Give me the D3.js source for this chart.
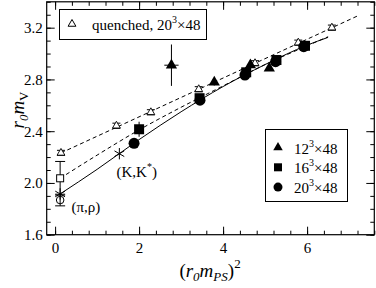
<!DOCTYPE html>
<html lang="en">
<head>
<meta charset="UTF-8">
<title>r0 mV vs (r0 mPS)^2</title>
<script src="https://d3js.org/d3.v7.min.js"></script>
<style>
    body { margin: 0; background: #fff; }
    svg, svg text, .axis text { font-family: "Liberation Serif", "Times New Roman", Times, serif !important; fill: #000; }
    .axis path { display: none; }
    .axis line { stroke: #000; }
    .axis text { font-size: 15px; }
</style>
</head>
<body>
<svg id="chart" width="376" height="288"></svg>
<script>
// quenched, 20^3x48 (open triangles)
const quenchedX = [0.14, 1.46, 2.28, 3.42, 4.76, 5.79, 6.59];
const quenchedY = [2.232, 2.442, 2.546, 2.724, 2.925, 3.084, 3.20];
// dynamical, three lattice sizes
const l12X = [2.77, 3.79, 4.65, 5.10];
const l12Y = [2.91, 2.778, 2.911, 2.886];
const l12Err = [0.16, 0.025, 0.02, 0.02];
const l12XErr = [0.17, 0, 0, 0];
const l16X = [2.0, 3.44, 4.55, 5.27, 5.95];
const l16Y = [2.415, 2.655, 2.855, 2.95, 3.06];
const l16Err = [0.058, 0.02, 0.02, 0.02, 0.02];
const l20X = [1.88, 3.45, 4.52, 5.25, 5.92];
const l20Y = [2.306, 2.64, 2.834, 2.937, 3.053];
// chiral / physical points
const sqOpen = { x: 0.12, y: 2.036, err: 0.13 };
const circOpen = { x: 0.12, y: 1.868, err: 0.045 };
const starX = [0.12, 1.53];
const starY = [1.915, 2.226];
// fit curves
const fitQX = [0.14, 7.25];
const fitQY = [2.232, 3.298];
const fitDashX = [0.12, 1, 2, 3, 4, 5, 6, 6.5];
const fitDashY = [2.036, 2.215, 2.41, 2.585, 2.75, 2.915, 3.06, 3.13];
const fitSolidX = [0.12, 1, 2, 3, 4, 5, 6, 6.5];
const fitSolidY = [1.915, 2.105, 2.335, 2.55, 2.745, 2.915, 3.065, 3.125];

const xMajor = [0, 2, 4, 6];
const yMajor = [1.6, 2.0, 2.4, 2.8, 3.2];

const svg = d3.select('#chart');
const L = 46.7, R = 374.3, T = 1.8, B = 234.7;
const x = d3.scaleLinear().domain([-0.2, 7.6]).range([L, R]);
const y = d3.scaleLinear().domain([1.6, 3.4]).range([B, T]);

const xMinor = d3.range(0, 7.61, 0.4);
const yMinor = d3.range(1.6, 3.401, 0.1);

function addAxis(gen, tr, vals, size, labels) {
    const g = svg.append('g').attr('class', 'axis').attr('transform', tr)
        .call(gen.tickValues(vals).tickSize(size).tickSizeOuter(0).tickPadding(4)
            .tickFormat(labels ? d3.format('.1f') : ''));
    return g;
}
addAxis(d3.axisLeft(y), `translate(${L},0)`, yMinor, -4, false);
addAxis(d3.axisLeft(y), `translate(${L},0)`, yMajor, -8, true);
addAxis(d3.axisRight(y), `translate(${R},0)`, yMinor, -4, false);
addAxis(d3.axisRight(y), `translate(${R},0)`, yMajor, -8, false);
addAxis(d3.axisBottom(x), `translate(0,${B})`, xMinor, -4, false);
const xb = svg.append('g').attr('class', 'axis').attr('transform', `translate(0,${B})`)
    .call(d3.axisBottom(x).tickValues(xMajor).tickSize(-8).tickSizeOuter(0).tickPadding(5).tickFormat(d3.format('d')));
xb.selectAll('text').attr('dy', '0.9em');
addAxis(d3.axisTop(x), `translate(0,${T})`, xMinor, -4, false);
addAxis(d3.axisTop(x), `translate(0,${T})`, xMajor, -8, false);
svg.selectAll('.axis').attr('font-family', null);

svg.append('rect').attr('x', L).attr('y', T).attr('width', R - L).attr('height', B - T)
    .attr('fill', 'none').attr('stroke', '#000').attr('stroke-width', 1.2);

// fit lines
const line = d3.line().x(d => x(d[0])).y(d => y(d[1]));
const curve = d3.line().x(d => x(d[0])).y(d => y(d[1])).curve(d3.curveMonotoneX);
svg.append('path').attr('d', line(d3.zip(fitQX, fitQY)))
    .attr('fill', 'none').attr('stroke', '#000').attr('stroke-dasharray', '4,3');
svg.append('path').attr('d', curve(d3.zip(fitDashX, fitDashY)))
    .attr('fill', 'none').attr('stroke', '#000').attr('stroke-dasharray', '4,3');
svg.append('path').attr('d', curve(d3.zip(fitSolidX, fitSolidY)))
    .attr('fill', 'none').attr('stroke', '#000');

function tri(cx, cy, r) {
    const h = r * 0.866;
    return `M${cx},${cy - r}L${cx + h},${cy + r / 2}L${cx - h},${cy + r / 2}Z`;
}
function errY(xv, yv, e, cap) {
    if (!e) return;
    const g = svg.append('g').attr('stroke', '#000');
    g.append('line').attr('x1', x(xv)).attr('x2', x(xv)).attr('y1', y(yv - e)).attr('y2', y(yv + e));
    g.append('line').attr('x1', x(xv) - cap).attr('x2', x(xv) + cap).attr('y1', y(yv + e)).attr('y2', y(yv + e));
    g.append('line').attr('x1', x(xv) - cap).attr('x2', x(xv) + cap).attr('y1', y(yv - e)).attr('y2', y(yv - e));
}
function errX(xv, yv, e) {
    if (!e) return;
    svg.append('line').attr('stroke', '#000')
        .attr('x1', x(xv - e)).attr('x2', x(xv + e)).attr('y1', y(yv)).attr('y2', y(yv));
}

// quenched open triangles
quenchedX.forEach((xv, i) => {
    errY(xv, quenchedY[i], 0.02, 4);
    svg.append('path').attr('d', tri(x(xv), y(quenchedY[i]), 4.5))
        .attr('fill', '#fff').attr('stroke', '#000').attr('stroke-width', 0.9);
});

// open square and circle at chiral limit
errY(sqOpen.x, sqOpen.y, sqOpen.err, 5);
svg.append('rect').attr('x', x(sqOpen.x) - 3.5).attr('y', y(sqOpen.y) - 3.5)
    .attr('width', 7).attr('height', 7).attr('fill', '#fff').attr('stroke', '#000');
errY(circOpen.x, circOpen.y, circOpen.err, 5);
svg.append('circle').attr('cx', x(circOpen.x)).attr('cy', y(circOpen.y)).attr('r', 3.8)
    .attr('fill', 'none').attr('stroke', '#000');

// dynamical points
l12X.forEach((xv, i) => {
    errY(xv, l12Y[i], l12Err[i], 0);
    errX(xv, l12Y[i], l12XErr[i]);
    svg.append('path').attr('d', tri(x(xv), y(l12Y[i]), 6.5)).attr('fill', '#000');
});
l16X.forEach((xv, i) => {
    errY(xv, l16Y[i], l16Err[i], 0);
    svg.append('rect').attr('x', x(xv) - 5).attr('y', y(l16Y[i]) - 5)
        .attr('width', 10).attr('height', 10).attr('fill', '#000');
});
l20X.forEach((xv, i) => {
    svg.append('circle').attr('cx', x(xv)).attr('cy', y(l20Y[i])).attr('r', 5.5).attr('fill', '#000');
});

// stars
const star = d3.symbol().type(d3.symbolAsterisk).size(90);
starX.forEach((xv, i) => {
    svg.append('path').attr('d', star())
        .attr('transform', `translate(${x(xv)},${y(starY[i])})`)
        .attr('fill', 'none').attr('stroke', '#000').attr('stroke-width', 1);
});

// annotations
const kk = svg.append('text').attr('x', 116.5).attr('y', 177).style('font-size', '15px');
kk.append('tspan').text('(K,K');
kk.append('tspan').attr('dy', -7).style('font-size', '10px').text('*');
kk.append('tspan').attr('dy', 7).text(')');
svg.append('text').attr('x', 71.5).attr('y', 212).style('font-size', '15px').text('(π,ρ)');

// legend: quenched
svg.append('rect').attr('x', 59.5).attr('y', 9.5).attr('width', 147).attr('height', 30)
    .attr('fill', '#fff').attr('stroke', '#000');
svg.append('path').attr('d', tri(72, 24, 4.5)).attr('fill', 'none').attr('stroke', '#000');
const lq = svg.append('text').attr('x', 92).attr('y', 30).style('font-size', '15px');
lq.append('tspan').text('quenched, 20');
lq.append('tspan').attr('dy', -7).style('font-size', '10px').text('3');
lq.append('tspan').attr('dy', 7).text('×48');

// legend: dynamical
svg.append('rect').attr('x', 265.5).attr('y', 129.5).attr('width', 82).attr('height', 72)
    .attr('fill', '#fff').attr('stroke', '#000');
const legRows = [['12', 'tri'], ['16', 'sq'], ['20', 'circ']];
legRows.forEach((r, i) => {
    const cy = 147.5 + i * 19.8;
    if (r[1] === 'tri') svg.append('path').attr('d', tri(278, cy, 5.5)).attr('fill', '#000');
    if (r[1] === 'sq') svg.append('rect').attr('x', 274).attr('y', cy - 4).attr('width', 8).attr('height', 8).attr('fill', '#000');
    if (r[1] === 'circ') svg.append('circle').attr('cx', 278).attr('cy', cy).attr('r', 4.5).attr('fill', '#000');
    const t = svg.append('text').attr('x', 294).attr('y', cy + 6).style('font-size', '15px');
    t.append('tspan').text(r[0]);
    t.append('tspan').attr('dy', -7).style('font-size', '10px').text('3');
    t.append('tspan').attr('dy', 7).text('×48');
});

// axis titles
const yl = svg.append('text').attr('transform', 'translate(24,110) rotate(-90)')
    .attr('text-anchor', 'middle').style('font-size', '19px').style('font-style', 'italic');
yl.append('tspan').text('r');
yl.append('tspan').attr('dy', 4).style('font-size', '13px').text('0');
yl.append('tspan').attr('dy', -4).text('m');
yl.append('tspan').attr('dy', 4).style('font-size', '13px').style('font-style', 'normal').text('V');

const xl = svg.append('text').attr('x', 210).attr('y', 277)
    .attr('text-anchor', 'middle').style('font-size', '19px');
xl.append('tspan').text('(');
xl.append('tspan').style('font-style', 'italic').text('r');
xl.append('tspan').attr('dy', 4).style('font-size', '13px').style('font-style', 'italic').text('0');
xl.append('tspan').attr('dy', -4).style('font-style', 'italic').text('m');
xl.append('tspan').attr('dy', 4).style('font-size', '13px').style('font-style', 'italic').text('PS');
xl.append('tspan').attr('dy', -4).text(')');
xl.append('tspan').attr('dy', -9).style('font-size', '13px').text('2');
</script>
</body>
</html>
